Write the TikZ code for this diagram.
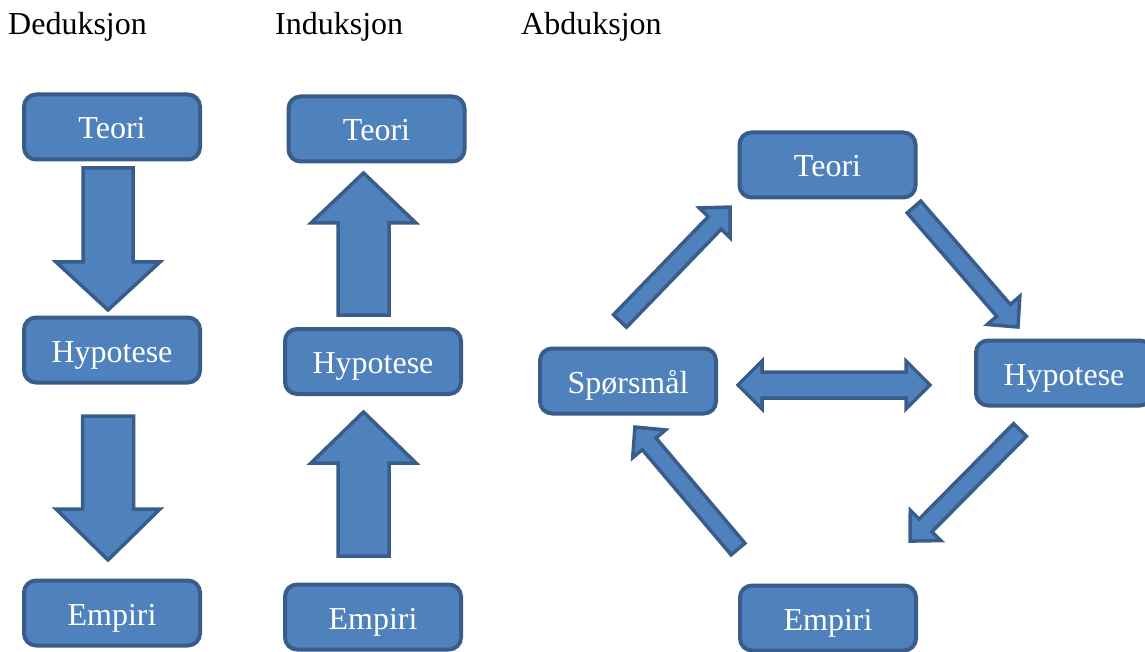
\documentclass[tikz,border=0pt]{standalone}
\usepackage{fontspec}
\setmainfont{Liberation Serif}
\definecolor{boxfill}{HTML}{4F81BD}
\definecolor{boxline}{HTML}{385D8A}
\tikzset{
  box/.style={rectangle, rounded corners=12pt, fill=boxfill, draw=boxline, line width=4pt,
    minimum width=176pt, minimum height=65pt, inner sep=0pt, text=white,
    text height=24pt, text depth=0pt,
    font=\fontsize{32}{36}\selectfont},
  head/.style={anchor=base west, inner sep=0pt, font=\fontsize{32}{36}\selectfont},
  barrowstyle/.style={fill=boxfill, draw=boxline, line width=3.5pt, line join=miter},
  pics/blockarrow/.style n args={4}{code={
    \draw[barrowstyle] (0,-#2/2) -- ({#1-#4},-#2/2) -- ({#1-#4},-#3/2) -- (#1,0)
      -- ({#1-#4},#3/2) -- ({#1-#4},#2/2) -- (0,#2/2) -- cycle;
  }},
  pics/doublearrow/.style n args={4}{code={
    \draw[barrowstyle] (#4,-#2/2) -- ({#1-#4},-#2/2) -- ({#1-#4},-#3/2) -- (#1,0)
      -- ({#1-#4},#3/2) -- ({#1-#4},#2/2) -- (#4,#2/2) -- (#4,#3/2) -- (0,0)
      -- (#4,-#3/2) -- cycle;
  }}
}
\begin{document}
\begin{tikzpicture}[x=1pt,y=-1pt]
\useasboundingbox (0,0) rectangle (1145,652);
\clip (0,0) rectangle (1145,652);
% headings
\node[head] (hd) at (8,35) {Deduksjon};
\node[head] (hi) at (275,35) {Induksjon};
\node[head] (ha) at (521,35) {Abduksjon};
% Deduksjon
\node[box] (dt) at (112,127) {Teori};
\node[box] (dh) at (112,350) {Hypotese};
\node[box] (de) at (112,613) {Empiri};
\pic[rotate=-90] at (108,168) {blockarrow={142}{50}{104}{48}};
\pic[rotate=-90] at (108,416) {blockarrow={144}{51}{104}{51}};
% Induksjon
\node[box] (it) at (376.5,129) {Teori};
\node[box] (ih) at (373,361.5) {Hypotese};
\node[box] (ie) at (373,617) {Empiri};
\pic[rotate=90] at (363.5,315) {blockarrow={142}{51}{105}{50}};
\pic[rotate=90] at (363.5,556) {blockarrow={144}{51}{105}{51}};
% Abduksjon
\node[box] (at) at (827.5,165) {Teori};
\node[box] (ah) at (1064,373) {Hypotese};
\node[box] (as) at (628,381) {Spørsmål};
\node[box] (ae) at (828,618) {Empiri};
\pic[rotate=46.0] at (620,321) {blockarrow={158.4}{18}{43}{22}};
\pic[rotate=-49.1] at (914,207) {blockarrow={158.8}{18}{43}{22}};
\pic[rotate=-134.7] at (1020,430) {blockarrow={156.3}{18}{43}{22}};
\pic[rotate=130.2] at (738,549) {blockarrow={159.7}{18}{43}{22}};
\pic at (738,385) {doublearrow={192}{26}{48}{24}};
\end{tikzpicture}
\end{document}
